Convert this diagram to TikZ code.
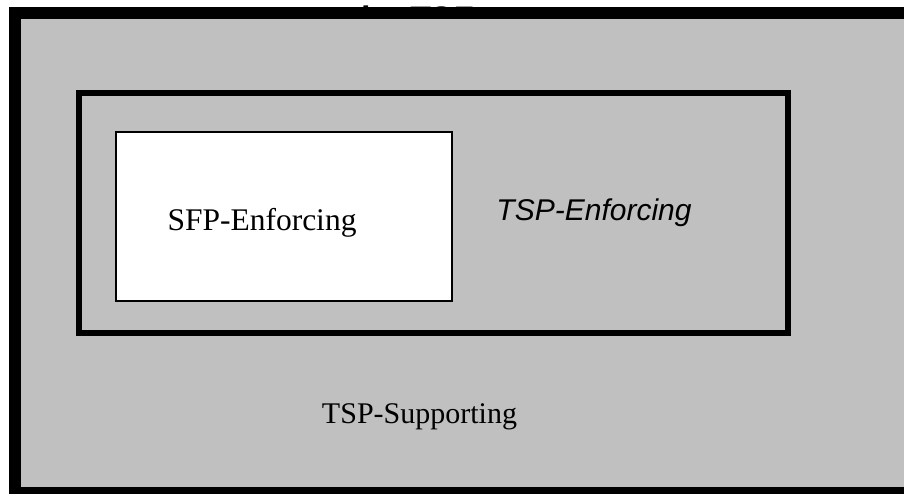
\documentclass[tikz,border=0pt]{standalone}
\usepackage{fontspec}
\setmainfont{Liberation Serif}
\newfontfamily\arialfont{Liberation Sans}
\definecolor{boxgray}{HTML}{C0C0C0}
\tikzset{
  outerbox/.style={draw=black, fill=boxgray, line width=12pt},
  midbox/.style={draw=black, fill=boxgray, line width=6pt},
  innerbox/.style={draw=black, fill=white, line width=2pt},
  serifl/.style={font=\fontsize{30}{34}\selectfont, inner sep=0pt, anchor=base},
  sansl/.style={font=\arialfont\itshape\fontsize{30}{34}\selectfont, inner sep=0pt, anchor=base},
  toplabel/.style={font=\arialfont\bfseries\itshape\fontsize{34}{38}\selectfont, inner sep=0pt, anchor=base east}
}
\begin{document}
\begin{tikzpicture}[x=1pt,y=-1pt]
\useasboundingbox (0,0) rectangle (904,494);
\clip (0,0) rectangle (904,494);
\node[toplabel] (toptext) at (472,30.5) {the TSF};
\draw[outerbox] (15,13) rectangle (916,493);
\draw[midbox] (79,93.5) rectangle (788,333);
\draw[innerbox] (116,132) rectangle (452,301);
\node[serifl, font=\fontsize{31.5}{35}\selectfont] (sfp) at (262,231) {SFP-Enforcing};
\node[sansl] (tspe) at (594,221) {TSP-Enforcing};
\node[serifl] (tsps) at (419.5,423) {TSP-Supporting};
\end{tikzpicture}
\end{document}
